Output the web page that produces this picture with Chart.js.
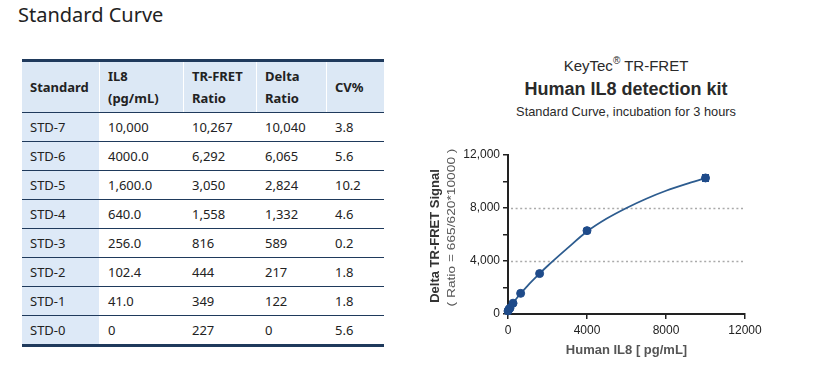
<!DOCTYPE html>
<html>
<head>
<meta charset="utf-8">
<script src="https://cdn.jsdelivr.net/npm/chart.js@4.4.1/dist/chart.umd.min.js"></script>
<style>
  html, body { margin: 0; padding: 0; background: #fff; }
  body { width: 817px; height: 370px; position: relative; overflow: hidden; }
  #pageTitle { position: absolute; left: 18px; top: 1px; font-family: "Noto Sans", "Open Sans", sans-serif; font-size: 20px; color: #222; }
  #tbl { position: absolute; left: 22px; top: 59px; border-collapse: collapse; font-family: "Noto Sans", "Open Sans", sans-serif; font-size: 13px; color: #222; }
  #tbl th, #tbl td { padding: 0 0 0 8px; text-align: left; vertical-align: middle; border-left: 1px solid #fff; }
  #tbl th:first-child, #tbl td:first-child { border-left: none; }
  #tbl thead tr { border-top: 3px solid #1f3a5c; }
  #tbl th { background: #dce8f5; font-weight: bold; height: 50px; line-height: 22px; border-bottom: 1.5px solid #1f3a5c; }
  #tbl td { height: 28px; border-bottom: 1.5px solid #1f3a5c; }
  #tbl td:first-child { background: #dde9f7; }
  #tbl tbody tr:last-child td { border-bottom: 3px solid #1f3a5c; }
  .ct { position: absolute; left: 420px; width: 412px; text-align: center; font-family: "Liberation Sans", Arial, sans-serif; color: #2a2a2a; }
  #t1 { top: 56px; font-size: 15px; }
  #t1 sup { font-size: 10px; position: relative; top: -1px; }
  #t2 { top: 79px; font-size: 18px; font-weight: bold; }
  #t3 { top: 104px; font-size: 12.8px; }
  #chartBox { position: absolute; left: 420px; top: 140px; width: 360px; height: 225px; }
</style>
</head>
<body>
<div id="pageTitle">Standard Curve</div>
<table id="tbl">
  <thead><tr id="hdr"></tr></thead>
  <tbody id="tbody"></tbody>
</table>
<div class="ct" id="t1">KeyTec<sup>®</sup> TR-FRET</div>
<div class="ct" id="t2">Human IL8 detection kit</div>
<div class="ct" id="t3">Standard Curve, incubation for 3 hours</div>
<div id="chartBox"><canvas id="c" width="360" height="225"></canvas></div>
<script>
// ---- table data ----
const headers = ["Standard", "IL8<br>(pg/mL)", "TR-FRET<br>Ratio", "Delta<br>Ratio", "CV%"];
const colWidths = [77, 83, 72, 69, 57];
const standards = ["STD-7", "STD-6", "STD-5", "STD-4", "STD-3", "STD-2", "STD-1", "STD-0"];
const il8Labels = ["10,000", "4000.0", "1,600.0", "640.0", "256.0", "102.4", "41.0", "0"];
const ratioLabels = ["10,267", "6,292", "3,050", "1,558", "816", "444", "349", "227"];
const deltaLabels = ["10,040", "6,065", "2,824", "1,332", "589", "217", "122", "0"];
const cvLabels = ["3.8", "5.6", "10.2", "4.6", "0.2", "1.8", "1.8", "5.6"];

// ---- chart data ----
const concentrations = [0, 41, 102.4, 256, 640, 1600, 4000, 10000];
const signal = [227, 349, 444, 816, 1558, 3050, 6292, 10267];
const signalErr = [10, 8, 12, 20, 40, 80, 160, 250];
// fitted curve
const fitX = [0, 100, 250, 500, 1000, 1600, 2000, 3000, 4000, 5000, 6000, 7000, 8000, 9000, 10000];
const fitY = [227, 440, 800, 1300, 2150, 3050, 3620, 4950, 6220, 7200, 8000, 8700, 9300, 9800, 10250];
const xTicks = [0, 4000, 8000, 12000];
const yLabelTicks = [0, 4000, 8000, 12000];
const gridValues = [4000, 8000];

// build table
const hdr = document.getElementById('hdr');
headers.forEach((h, i) => {
  const th = document.createElement('th');
  th.innerHTML = h;
  th.style.width = (colWidths[i] - 8) + 'px';
  hdr.appendChild(th);
});
const tb = document.getElementById('tbody');
standards.forEach((s, i) => {
  const tr = document.createElement('tr');
  [s, il8Labels[i], ratioLabels[i], deltaLabels[i], cvLabels[i]].forEach(v => {
    const td = document.createElement('td');
    td.textContent = v;
    tr.appendChild(td);
  });
  tb.appendChild(tr);
});

const axisColor = '#222';
const markColor = '#1f4b8a';
const FONT = '"Liberation Sans", Arial, sans-serif';

const extras = {
  id: 'extras',
  beforeDatasetsDraw(chart) {
    const {ctx, chartArea, scales} = chart;
    ctx.save();
    ctx.strokeStyle = '#aaaaaa';
    ctx.lineWidth = 1.5;
    ctx.setLineDash([2, 2.6]);
    gridValues.forEach(v => {
      const y = Math.round(scales.y.getPixelForValue(v)) + 0.5;
      ctx.beginPath();
      ctx.moveTo(chartArea.left + 3, y);
      ctx.lineTo(chartArea.right, y);
      ctx.stroke();
    });
    ctx.restore();
  },
  afterDatasetsDraw(chart) {
    const {ctx, scales} = chart;
    ctx.save();
    ctx.strokeStyle = markColor;
    ctx.lineWidth = 1.5;
    concentrations.forEach((x, i) => {
      const px = scales.x.getPixelForValue(x);
      const y1 = scales.y.getPixelForValue(signal[i] - signalErr[i]);
      const y2 = scales.y.getPixelForValue(signal[i] + signalErr[i]);
      ctx.beginPath();
      ctx.moveTo(px, y1); ctx.lineTo(px, y2);
      ctx.moveTo(px - 3.5, y1); ctx.lineTo(px + 3.5, y1);
      ctx.moveTo(px - 3.5, y2); ctx.lineTo(px + 3.5, y2);
      ctx.stroke();
    });
    ctx.restore();
  },
  afterDraw(chart) {
    const {ctx, chartArea} = chart;
    ctx.save();
    const cy = (chartArea.top + chartArea.bottom) / 2 - 2;
    ctx.translate(15, cy);
    ctx.rotate(-Math.PI / 2);
    ctx.textAlign = 'center';
    ctx.textBaseline = 'middle';
    ctx.fillStyle = '#333';
    ctx.font = 'bold 13px ' + FONT;
    ctx.fillText('Delta TR-FRET Signal', -3.5, 0);
    ctx.fillStyle = '#555';
    ctx.font = '11px ' + FONT;
    ctx.save();
    ctx.translate(5, 16.5);
    ctx.scale(1.25, 1);
    ctx.fillText('( Ratio = 665/620*10000 )', 0, 0);
    ctx.restore();
    ctx.restore();
    ctx.save();
    ctx.textAlign = 'center';
    ctx.textBaseline = 'middle';
    ctx.fillStyle = '#555';
    ctx.font = 'bold 13px ' + FONT;
    ctx.fillText('Human IL8 [ pg/mL]', (chartArea.left + chartArea.right) / 2, 210);
    ctx.restore();
  }
};

new Chart(document.getElementById('c'), {
  type: 'scatter',
  data: {
    datasets: [{
      data: concentrations.map((x, i) => ({x: x, y: signal[i]})),
      showLine: false,
      backgroundColor: markColor,
      pointBackgroundColor: markColor,
      pointBorderColor: markColor,
      pointRadius: 4,
      clip: false,
      order: 0
    }, {
      data: fitX.map((x, i) => ({x: x, y: fitY[i]})),
      showLine: true,
      cubicInterpolationMode: 'monotone',
      borderColor: '#2d5c8f',
      borderWidth: 1.8,
      pointRadius: 0,
      clip: false,
      order: 1
    }]
  },
  options: {
    responsive: false,
    animation: false,
    events: [],
    layout: { padding: { left: 26, right: 35, top: 15, bottom: 5 } },
    plugins: { legend: { display: false }, tooltip: { enabled: false } },
    scales: {
      x: {
        type: 'linear',
        min: 0, max: 12000,
        afterFit(s) { s.height = 46; },
        afterBuildTicks(s) { s.ticks = xTicks.map(v => ({value: v})); },
        ticks: { color: axisColor, font: { size: 12, family: FONT }, padding: 4, maxRotation: 0, callback: v => String(v) },
        grid: { drawOnChartArea: false, color: axisColor, tickColor: axisColor, tickLength: 5, lineWidth: 1.5 },
        border: { color: axisColor, width: 2 }
      },
      y: {
        type: 'linear',
        min: 0, max: 12000,
        afterFit(s) { s.width = 62; },
        ticks: {
          stepSize: 2000,
          color: axisColor,
          font: { size: 12, family: FONT },
          padding: 3,
          callback: v => yLabelTicks.includes(v) ? v.toLocaleString('en-US') : ''
        },
        grid: { drawOnChartArea: false, color: axisColor, tickColor: axisColor, tickLength: 5, lineWidth: 1.5 },
        border: { color: axisColor, width: 2 }
      }
    }
  },
  plugins: [extras]
});
</script>
</body>
</html>
